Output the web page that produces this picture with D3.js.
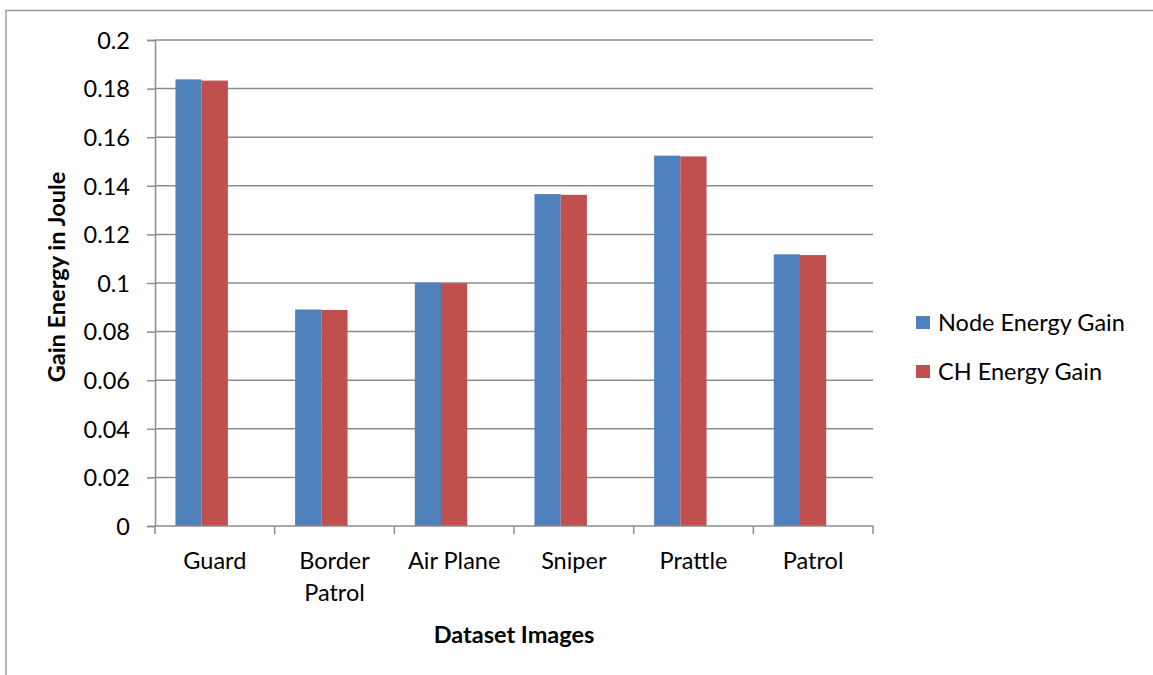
<!DOCTYPE html>
<html>
<head>
<meta charset="utf-8">
<script src="https://cdn.jsdelivr.net/npm/d3@7"></script>
<style>
  body { margin: 0; background: #fff; }
  text { font-family: Lato, "Open Sans", sans-serif; fill: #000; }
</style>
</head>
<body>
<div id="chart"></div>
<script>
  /* chart data */
  var categories = [["Guard"], ["Border", "Patrol"], ["Air Plane"], ["Sniper"], ["Prattle"], ["Patrol"]];
  var seriesNames = ["Node Energy Gain", "CH Energy Gain"];
  var nodeGain = [0.1838, 0.0891, 0.1001, 0.1366, 0.1524, 0.1118];
  var chGain = [0.1833, 0.0889, 0.0999, 0.1363, 0.1521, 0.1115];
  var yTicks = [0, 0.02, 0.04, 0.06, 0.08, 0.1, 0.12, 0.14, 0.16, 0.18, 0.2];
  var colors = ["#4f81bd", "#c0504d"];

  function draw() {
    var width = 1153, height = 675;
    var pLeft = 155, pRight = 873, pTop = 40, pBottom = 526;
    var fs = "23.5px";

    var svg = d3.select("#chart")
      .append("svg")
        .attr("width", width)
        .attr("height", height);

    /* outer frame, only top and left show in the picture */
    svg.append("path")
      .attr("d", "M6,675 V10.5 H1153")
      .attr("fill", "none")
      .attr("stroke", "#9a9a9a")
      .attr("stroke-width", 1.5);

    var x = d3.scaleBand()
      .domain(d3.range(categories.length))
      .range([pLeft, pRight]);

    var y = d3.scaleLinear()
      .domain([0, 0.2])
      .range([pBottom, pTop]);

    /* gridlines */
    svg.append("g")
      .selectAll("line")
      .data(yTicks.slice(1))
      .enter()
      .append("line")
        .attr("x1", pLeft)
        .attr("x2", pRight)
        .attr("y1", function (d) { return y(d); })
        .attr("y2", function (d) { return y(d); })
        .attr("stroke", "#8c8c8c")
        .attr("stroke-width", 1.5);

    /* bars */
    var bw = x.bandwidth();
    var seriesData = [nodeGain, chGain];
    seriesData.forEach(function (vals, s) {
      svg.append("g")
        .selectAll("rect")
        .data(vals)
        .enter()
        .append("rect")
          .attr("x", function (d, i) { return x(i) + bw * 0.171 + s * bw * 0.219; })
          .attr("width", bw * 0.219)
          .attr("y", function (d) { return y(d); })
          .attr("height", function (d) { return pBottom - y(d); })
          .attr("fill", colors[s]);
    });

    /* y axis */
    var yAxis = svg.append("g")
      .attr("transform", "translate(" + pLeft + ",0)")
      .call(d3.axisLeft(y).tickValues(yTicks).tickSize(8).tickPadding(17)
        .tickFormat(function (d) { return String(+d.toFixed(2)); }));
    yAxis.select(".domain").attr("stroke", "#8c8c8c").attr("stroke-width", 1.5);
    yAxis.selectAll(".tick line").attr("stroke", "#8c8c8c").attr("stroke-width", 1.5);
    yAxis.selectAll(".tick text")
      .style("font-family", "Lato, sans-serif")
      .style("font-size", fs)
      .attr("fill", "#000")
      .attr("dy", "0.35em");

    /* x axis */
    var xAxis = svg.append("g")
      .attr("transform", "translate(0," + pBottom + ")");
    xAxis.append("line")
      .attr("x1", pLeft).attr("x2", pRight)
      .attr("stroke", "#8c8c8c").attr("stroke-width", 1.5);
    xAxis.selectAll(".xt")
      .data(d3.range(categories.length + 1))
      .enter()
      .append("line")
        .attr("x1", function (d) { return pLeft + d * bw; })
        .attr("x2", function (d) { return pLeft + d * bw; })
        .attr("y1", 0).attr("y2", 8)
        .attr("stroke", "#8c8c8c").attr("stroke-width", 1.5);
    xAxis.selectAll(".xl")
      .data(categories)
      .enter()
      .append("text")
        .attr("text-anchor", "middle")
        .attr("x", function (d, i) { return x(i) + bw / 2; })
        .attr("y", 43)
        .style("font-size", fs)
        .each(function (d) {
          var t = d3.select(this);
          d.forEach(function (line, j) {
            t.append("tspan")
              .attr("x", t.attr("x"))
              .attr("dy", j === 0 ? 0 : 32)
              .text(line);
          });
        });

    /* axis titles */
    svg.append("text")
      .attr("x", (pLeft + pRight) / 2)
      .attr("y", 643)
      .attr("text-anchor", "middle")
      .style("font-size", fs)
      .style("font-weight", "bold")
      .text("Dataset Images");

    svg.append("text")
      .attr("transform", "translate(65," + ((pTop + pBottom) / 2 - 6) + ") rotate(-90)")
      .attr("text-anchor", "middle")
      .style("font-size", fs)
      .style("font-weight", "bold")
      .text("Gain Energy in Joule");

    /* legend */
    var legend = svg.append("g")
      .selectAll("g")
      .data(seriesNames)
      .enter()
      .append("g")
        .attr("transform", function (d, i) { return "translate(916," + (316 + i * 49) + ")"; });
    legend.append("rect")
      .attr("width", 14).attr("height", 13)
      .attr("fill", function (d, i) { return colors[i]; });
    legend.append("text")
      .attr("x", 22).attr("y", 7)
      .attr("dy", "0.35em")
      .style("font-size", fs)
      .text(function (d) { return d; });
  }

  draw();
</script>
</body>
</html>
